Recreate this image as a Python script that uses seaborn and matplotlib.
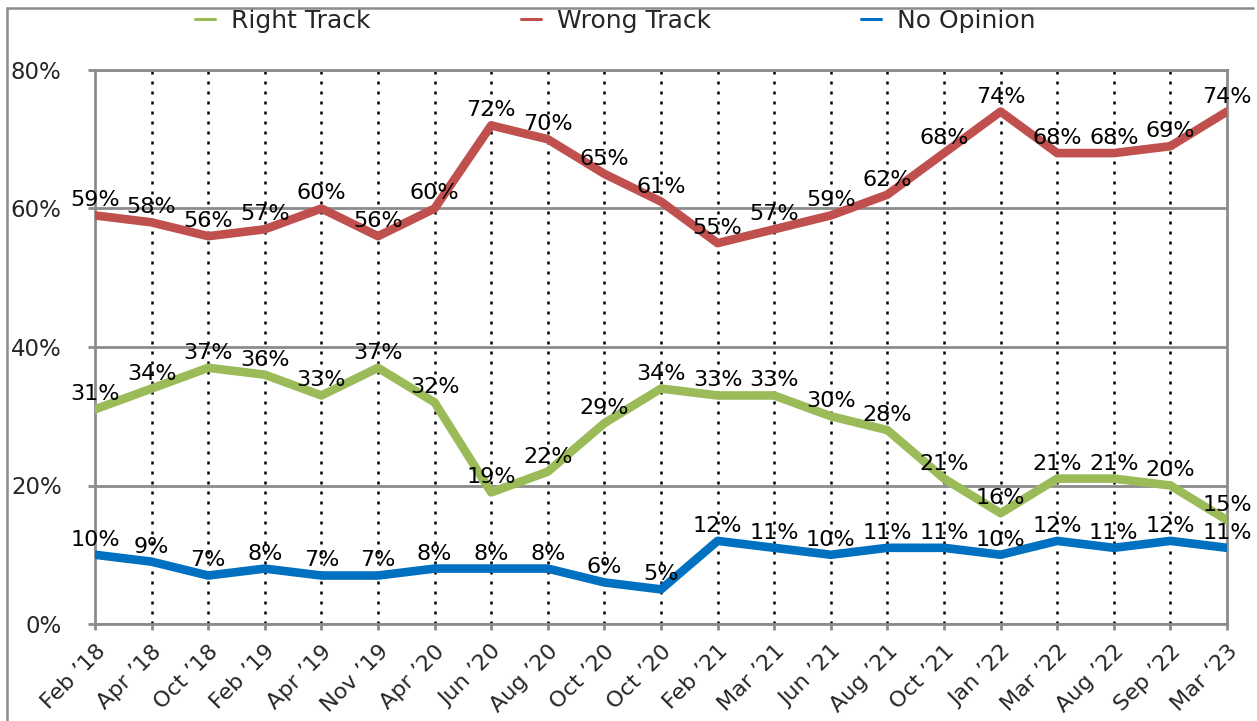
import matplotlib
matplotlib.use("Agg")
import matplotlib.pyplot as plt
from matplotlib.lines import Line2D
import seaborn as sns
import pandas as pd

categories = ["Feb \u201918", "Apr \u201918", "Oct \u201918", "Feb \u201919", "Apr \u201919",
              "Nov \u201919", "Apr \u201920", "Jun \u201920", "Aug \u201920", "Oct \u201920",
              "Oct \u201920", "Feb \u201921", "Mar \u201921", "Jun \u201921", "Aug \u201921",
              "Oct \u201921", "Jan \u201922", "Mar \u201922", "Aug \u201922", "Sep \u201922",
              "Mar \u201823"]
right_track = [31, 34, 37, 36, 33, 37, 32, 19, 22, 29, 34, 33, 33, 30, 28, 21, 16, 21, 21, 20, 15]
wrong_track = [59, 58, 56, 57, 60, 56, 60, 72, 70, 65, 61, 55, 57, 59, 62, 68, 74, 68, 68, 69, 74]
no_opinion = [10, 9, 7, 8, 7, 7, 8, 8, 8, 6, 5, 12, 11, 10, 11, 11, 10, 12, 11, 12, 11]
series_names = ["Right Track", "Wrong Track", "No Opinion"]
series_colors = ["#9BBB59", "#C0504D", "#0070C0"]
y_ticks = [0, 20, 40, 60, 80]
y_tick_labels = ["0%", "20%", "40%", "60%", "80%"]

sns.set_style("white")
plt.rcParams["font.family"] = ["DejaVu Sans"]

rows = []
for name, vals in zip(series_names, [right_track, wrong_track, no_opinion]):
    for i, v in enumerate(vals):
        rows.append({"pos": i, "value": v, "series": name})
df = pd.DataFrame(rows)

W, H = 1257, 721
fig = plt.figure(figsize=(W / 100, H / 100), dpi=100)
ax = fig.add_axes([95 / W, 1 - 624 / H, 1132 / W, 554 / H])

gray = "#8c8c8c"
n = len(categories)

# vertical dotted lines
for p in range(1, n - 1):
    ax.axvline(p, color="black", lw=1.8, linestyle=(0, (1.2, 2.8)), zorder=1)

sns.lineplot(data=df, x="pos", y="value", hue="series", palette=series_colors,
             hue_order=series_names, lw=6.2, ax=ax, legend=False, zorder=3)

for name, vals in zip(series_names, [right_track, wrong_track, no_opinion]):
    for i, v in enumerate(vals):
        ax.annotate(f"{v}%", xy=(i, v), xytext=(0, 6.5), textcoords="offset points",
                    ha="center", va="baseline", fontsize=16, color="black", zorder=5,
                    annotation_clip=False)

ax.set_xlim(0, n - 1)
ax.set_ylim(0, 80)
ax.set_yticks(y_ticks)
ax.set_yticklabels(y_tick_labels, fontsize=16.5)
ax.set_xticks(range(n))
ax.set_xticklabels(categories, fontsize=16, rotation=45, ha="right",
                   va="top", rotation_mode="anchor")
ax.set_xlabel("")
ax.set_ylabel("")

ax.yaxis.grid(True, color=gray, lw=2)
ax.xaxis.grid(False)
ax.set_axisbelow(True)
for s in ax.spines.values():
    s.set_visible(True)
    s.set_color(gray)
    s.set_linewidth(2)
ax.tick_params(axis="y", length=5, width=2, color=gray, pad=19, left=True)
ax.tick_params(axis="x", length=4.5, width=2, color=gray, pad=8, bottom=True)

handles = [Line2D([], [], color=c, lw=2.2) for c in series_colors]
leg = ax.legend(handles, series_names, loc="center left",
                bbox_to_anchor=(195 / W, 1 - 21 / H), bbox_transform=fig.transFigure,
                ncol=3, frameon=False, fontsize=18, handlelength=0.8,
                handletextpad=0.65, columnspacing=6.0, borderpad=0, borderaxespad=0)

# outer frame (left and top edges)
fig.add_artist(Line2D([7 / W, 7 / W], [0, 1 - 8 / H], color=gray, lw=1.8,
                      transform=fig.transFigure))
fig.add_artist(Line2D([7 / W, 1253 / W], [1 - 8 / H, 1 - 8 / H], color=gray, lw=1.8,
                      transform=fig.transFigure))

fig.savefig("out.png", dpi=100)
